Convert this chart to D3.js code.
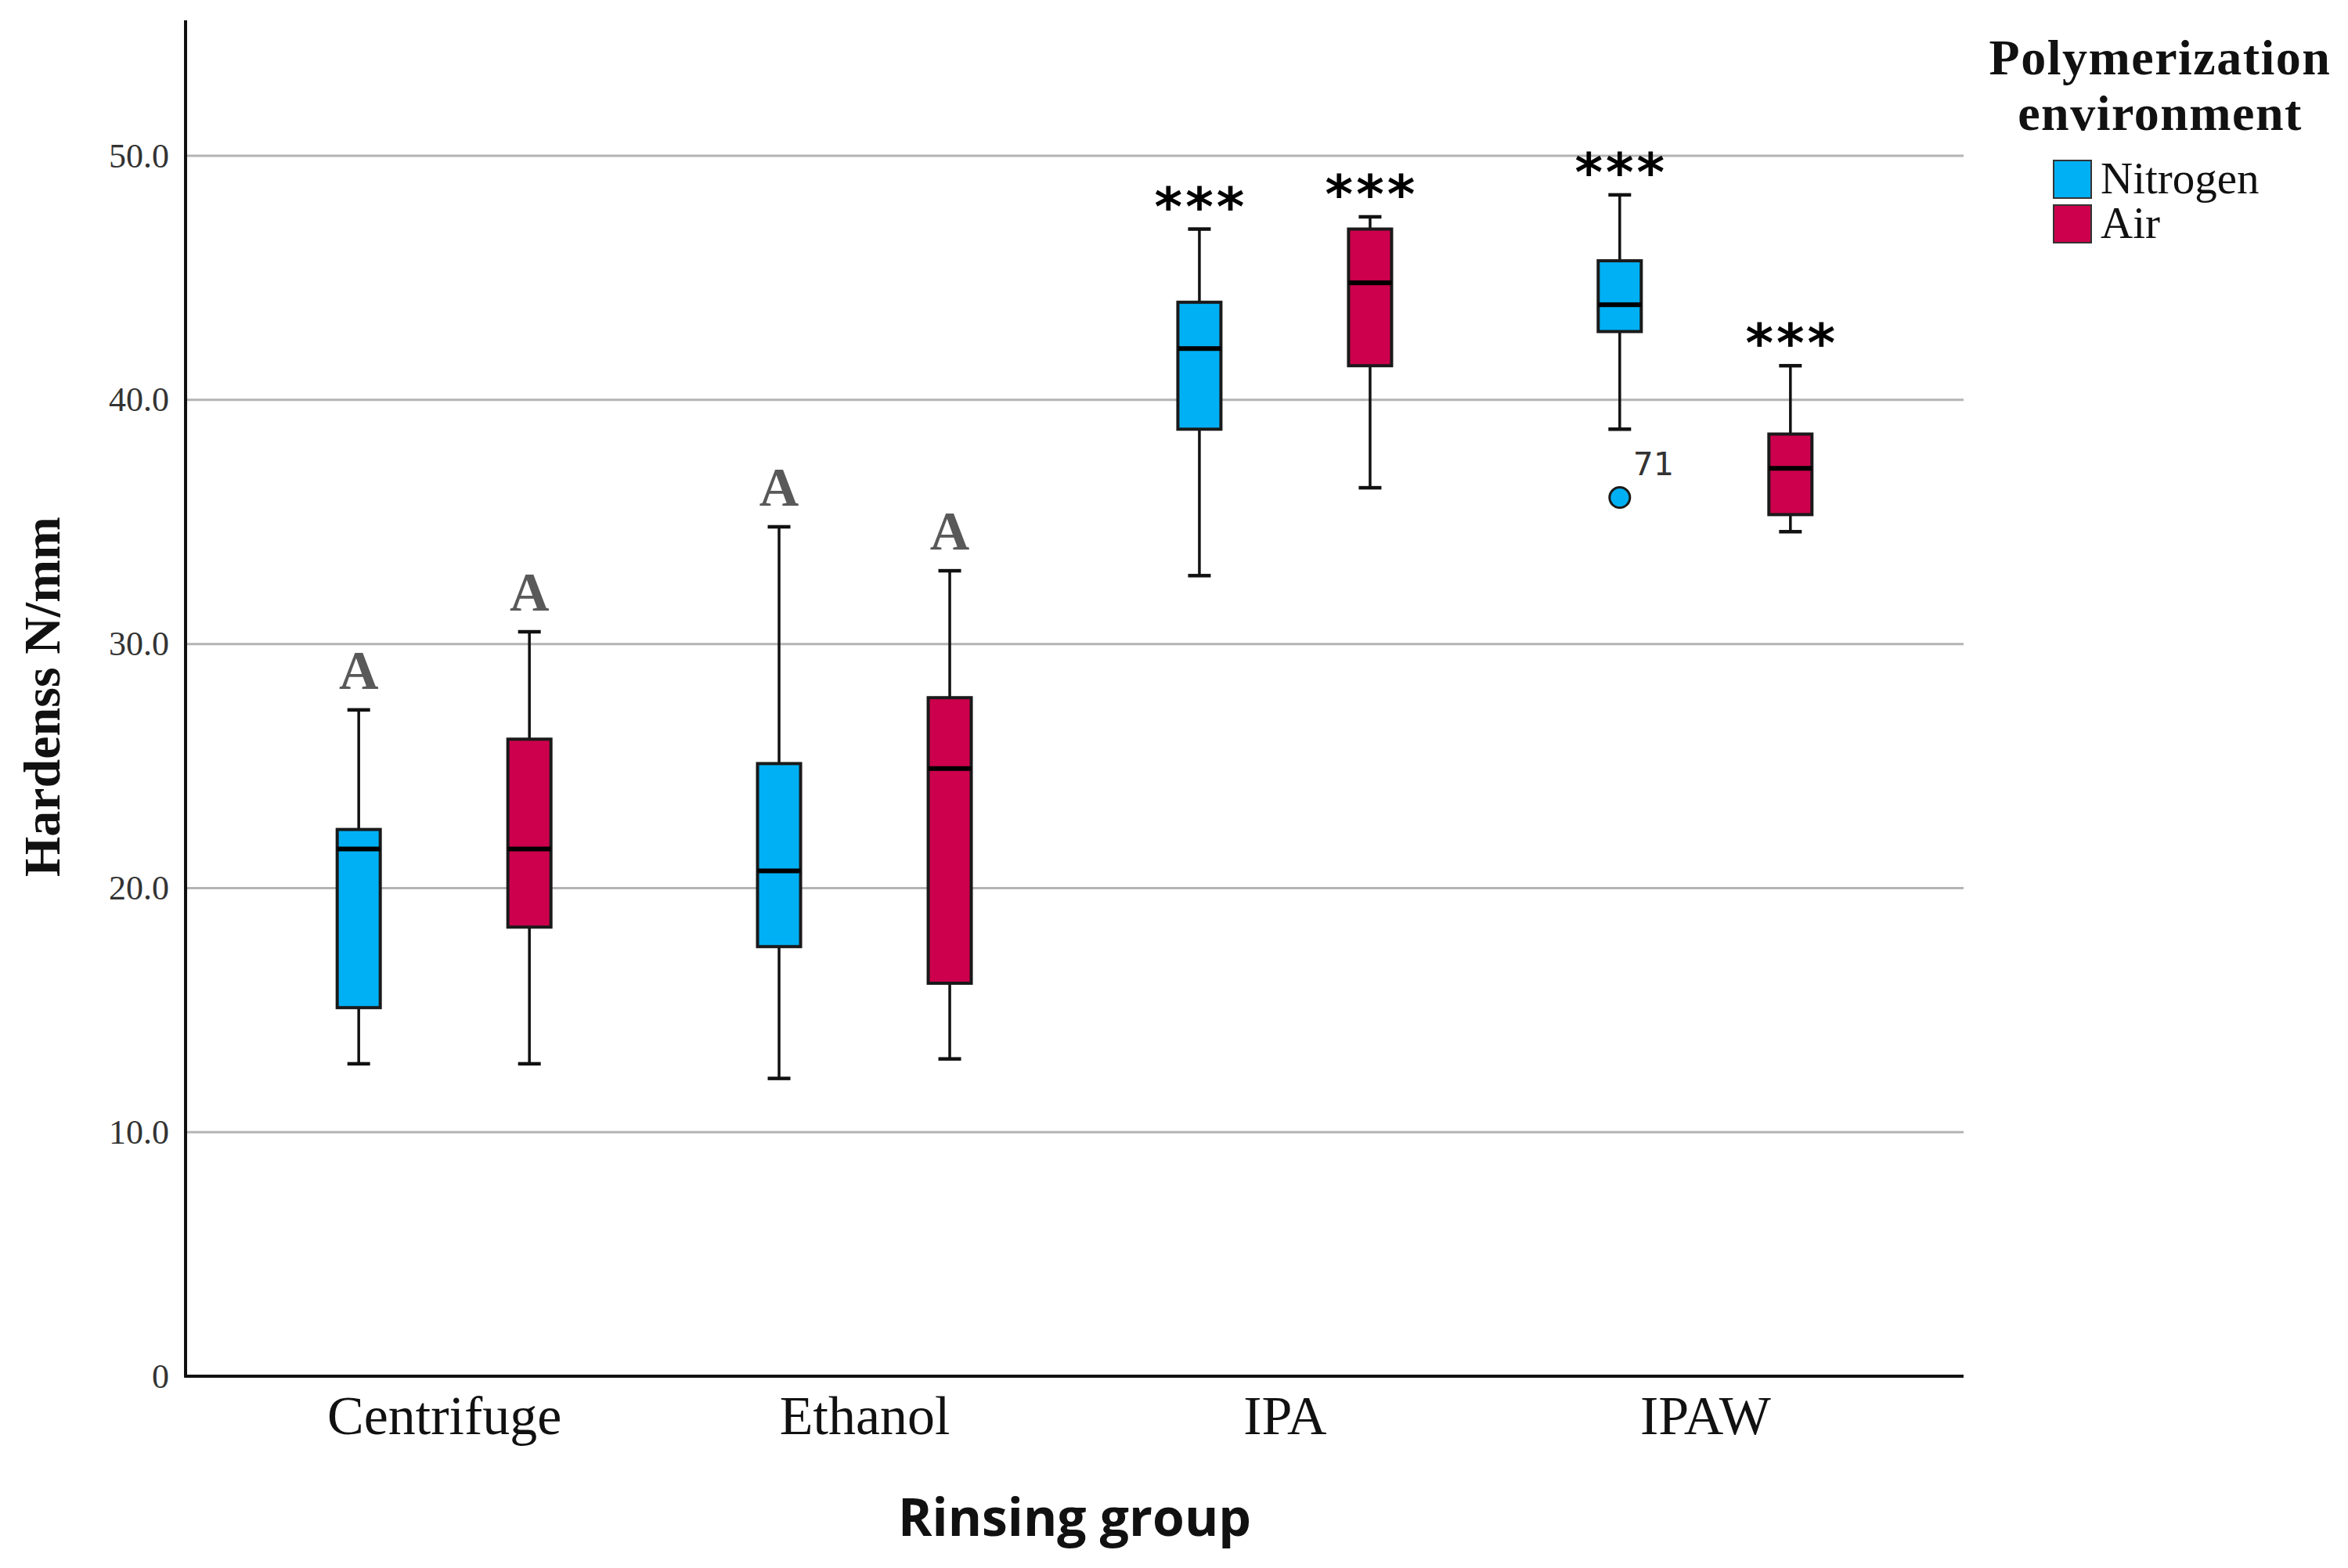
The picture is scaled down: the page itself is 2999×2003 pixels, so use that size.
<!DOCTYPE html>
<html>
<head>
<meta charset="utf-8">
<script src="https://cdn.jsdelivr.net/npm/d3@7"></script>
<style>
  body { margin: 0; background: #fff; }
</style>
</head>
<body>
<svg id="chart" width="2999" height="2003"></svg>
<script>
// Categories and series.
const groups = ["Centrifuge", "Ethanol", "IPA", "IPAW"];
const envs = ["Nitrogen", "Air"];

// Box plot stats (per group, in the order above).
const nitrogenMin = [12.8, 12.2, 32.8, 38.8];
const nitrogenQ1 = [15.1, 17.6, 38.8, 42.8];
const nitrogenMedian = [21.6, 20.7, 42.1, 43.9];
const nitrogenQ3 = [22.4, 25.1, 44.0, 45.7];
const nitrogenMax = [27.3, 34.8, 47.0, 48.4];

const airMin = [12.8, 13.0, 36.4, 34.6];
const airQ1 = [18.4, 16.1, 41.4, 35.3];
const airMedian = [21.6, 24.9, 44.8, 37.2];
const airQ3 = [26.1, 27.8, 47.0, 38.6];
const airMax = [30.5, 33.0, 47.5, 41.4];

// Significance letters above each box.
const nitrogenLabels = ["A", "A", "***", "***"];
const airLabels = ["A", "A", "***", "***"];

// Outliers.
const outliers = [{ group: "IPAW", env: "Nitrogen", value: 36.0, label: "71" }];

// Tick values on the y axis.
const yTicks = [0, 10, 20, 30, 40, 50];

const colors = { Nitrogen: "#00b0f4", Air: "#cc004c" };

// Build one row per box.
let boxes = [];
groups.forEach(function (g, i) {
  boxes.push({ group: g, env: "Nitrogen", min: nitrogenMin[i], q1: nitrogenQ1[i],
    median: nitrogenMedian[i], q3: nitrogenQ3[i], max: nitrogenMax[i], label: nitrogenLabels[i] });
  boxes.push({ group: g, env: "Air", min: airMin[i], q1: airQ1[i],
    median: airMedian[i], q3: airQ3[i], max: airMax[i], label: airLabels[i] });
});

const svg = d3.select("#chart");
const plotLeft = 237, plotRight = 2508, plotTop = 26, plotBottom = 1758;

const y = d3.scaleLinear().domain([0, 55.55]).range([plotBottom, plotTop]);
const x = d3.scalePoint().domain(groups).range([plotLeft, plotRight]).padding(0.615);
const xInner = d3.scaleBand().domain(envs).range([-218, 218]);
const boxW = 55, capW = 29;

function cx(d) {
  return x(d.group) + xInner(d.env) + xInner.bandwidth() / 2;
}

// Gridlines.
svg.append("g")
  .selectAll("line")
  .data(yTicks.filter(function (t) { return t > 0; }))
  .enter()
  .append("line")
  .attr("x1", plotLeft).attr("x2", plotRight)
  .attr("y1", function (d) { return y(d); })
  .attr("y2", function (d) { return y(d); })
  .attr("stroke", "#b4b4b4")
  .attr("stroke-width", 3);

// Y axis.
const yAxis = svg.append("g")
  .attr("transform", "translate(" + plotLeft + ",0)")
  .call(d3.axisLeft(y).tickValues(yTicks).tickSize(0).tickPadding(21)
    .tickFormat(function (d) { return d === 0 ? "0" : d3.format(".1f")(d); }));
yAxis.select(".domain").remove();
yAxis.selectAll("text")
  .attr("font-family", "Liberation Serif")
  .attr("font-size", 44)
  .attr("fill", "#333");

// X axis.
const xAxis = svg.append("g")
  .attr("transform", "translate(0," + plotBottom + ")")
  .call(d3.axisBottom(x).tickSize(0).tickPadding(24));
xAxis.select(".domain").remove();
xAxis.selectAll("text")
  .attr("font-family", "Liberation Serif")
  .attr("font-size", 70)
  .attr("fill", "#111")
  .attr("dy", "0.71em");

// Axis lines.
svg.append("line")
  .attr("x1", plotLeft).attr("x2", plotLeft).attr("y1", plotTop).attr("y2", plotBottom + 1.5)
  .attr("stroke", "#111").attr("stroke-width", 4);
svg.append("line")
  .attr("x1", plotLeft - 1.5).attr("x2", plotRight).attr("y1", plotBottom).attr("y2", plotBottom)
  .attr("stroke", "#111").attr("stroke-width", 4);

// Boxes.
const box = svg.append("g").selectAll("g").data(boxes).enter().append("g");

// Whiskers.
box.append("line")
  .attr("x1", cx).attr("x2", cx)
  .attr("y1", function (d) { return y(d.max); })
  .attr("y2", function (d) { return y(d.min); })
  .attr("stroke", "#111").attr("stroke-width", 3.5);
box.selectAll(".cap")
  .data(function (d) { return [d.min, d.max].map(function (v) { return { d: d, v: v }; }); })
  .enter()
  .append("line")
  .attr("class", "cap")
  .attr("x1", function (e) { return cx(e.d) - capW / 2; })
  .attr("x2", function (e) { return cx(e.d) + capW / 2; })
  .attr("y1", function (e) { return y(e.v); })
  .attr("y2", function (e) { return y(e.v); })
  .attr("stroke", "#111").attr("stroke-width", 4.5);

// Interquartile box.
box.append("rect")
  .attr("x", function (d) { return cx(d) - boxW / 2; })
  .attr("width", boxW)
  .attr("y", function (d) { return y(d.q3); })
  .attr("height", function (d) { return y(d.q1) - y(d.q3); })
  .attr("fill", function (d) { return colors[d.env]; })
  .attr("stroke", "#1a1a1a").attr("stroke-width", 4);

// Median.
box.append("line")
  .attr("x1", function (d) { return cx(d) - boxW / 2; })
  .attr("x2", function (d) { return cx(d) + boxW / 2; })
  .attr("y1", function (d) { return y(d.median); })
  .attr("y2", function (d) { return y(d.median); })
  .attr("stroke", "#000").attr("stroke-width", 6);

// Significance labels.
box.append("text")
  .attr("x", function (d) { return d.label === "A" ? cx(d) : cx(d) + 2; })
  .attr("y", function (d) { return d.label === "A" ? y(d.max) - 27 : y(d.max) - 5; })
  .attr("text-anchor", "middle")
  .attr("font-family", function (d) { return d.label === "A" ? "Liberation Serif" : "DejaVu Sans"; })
  .attr("font-weight", "bold")
  .attr("font-size", function (d) { return d.label === "A" ? 70 : 68; })
  .attr("letter-spacing", function (d) { return d.label === "A" ? 0 : 4; })
  .attr("fill", function (d) { return d.label === "A" ? "#595959" : "#000"; })
  .text(function (d) { return d.label; });

// Outliers.
const out = svg.append("g").selectAll("g").data(outliers).enter().append("g");
out.append("circle")
  .attr("cx", cx)
  .attr("cy", function (d) { return y(d.value); })
  .attr("r", 13)
  .attr("fill", function (d) { return colors[d.env]; })
  .attr("stroke", "#1a1a1a").attr("stroke-width", 3);
out.append("text")
  .attr("x", function (d) { return cx(d) + 17; })
  .attr("y", function (d) { return y(d.value) - 29; })
  .attr("font-family", "DejaVu Sans")
  .attr("font-size", 41)
  .attr("fill", "#333")
  .text(function (d) { return d.label; });

// Axis titles.
svg.append("text")
  .attr("transform", "translate(76,890) rotate(-90)")
  .attr("text-anchor", "middle")
  .attr("font-family", "Liberation Serif")
  .attr("font-weight", "bold")
  .attr("font-size", 66)
  .attr("fill", "#111")
  .text("Hardenss N/mm");
svg.append("text")
  .attr("x", (plotLeft + plotRight) / 2)
  .attr("y", 1962)
  .attr("text-anchor", "middle")
  .attr("font-family", "Open Sans")
  .attr("font-weight", "bold")
  .attr("font-size", 66)
  .attr("fill", "#111")
  .text("Rinsing group");

// Legend.
const legend = svg.append("g");
legend.selectAll(".ltitle")
  .data(["Polymerization", "environment"])
  .enter()
  .append("text")
  .attr("class", "ltitle")
  .attr("x", 2759)
  .attr("y", function (d, i) { return 95 + i * 71; })
  .attr("text-anchor", "middle")
  .attr("font-family", "Liberation Serif")
  .attr("font-weight", "bold")
  .attr("font-size", 64)
  .attr("letter-spacing", 1.5)
  .attr("fill", "#111")
  .text(function (d) { return d; });
const item = legend.selectAll(".item").data(envs).enter().append("g")
  .attr("transform", function (d, i) { return "translate(2623," + (205 + i * 57) + ")"; });
item.append("rect")
  .attr("width", 48).attr("height", 48)
  .attr("fill", function (d) { return colors[d]; })
  .attr("stroke", "#333").attr("stroke-width", 2);
item.append("text")
  .attr("x", 60).attr("y", 42)
  .attr("font-family", "Liberation Serif")
  .attr("font-size", 57)
  .attr("fill", "#111")
  .text(function (d) { return d; });
</script>
</body>
</html>
